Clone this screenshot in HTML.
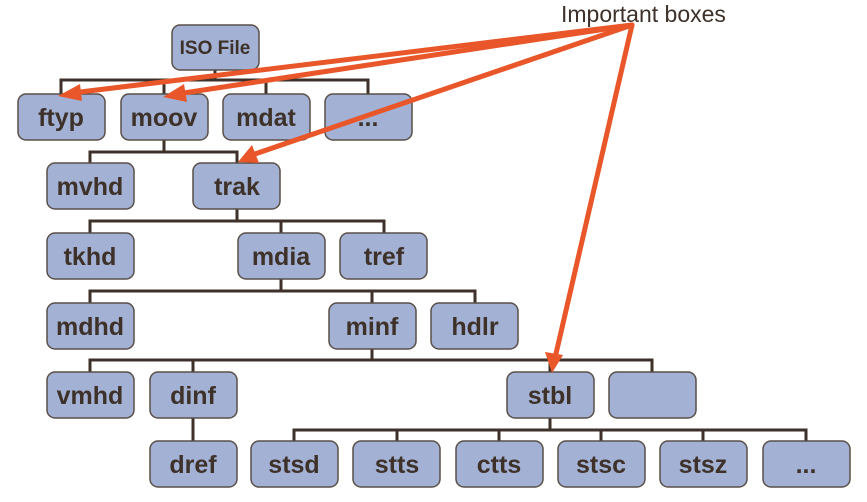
<!DOCTYPE html>
<html><head><meta charset="utf-8"><style>
html,body{margin:0;padding:0;background:#fff;width:867px;height:502px;overflow:hidden}
svg text{font-family:"Liberation Sans",sans-serif;font-weight:bold;fill:#3d3129}
</style></head><body>
<svg width="867" height="502" xmlns="http://www.w3.org/2000/svg">
<g fill="none" stroke="#3d3129" stroke-width="3">
<path d="M215 70V80M61 94V80H368V94M164 80V94M266 80V94"/>
<path d="M164 140V152M90 163V152H237V163"/>
<path d="M237 209V221M90 233V221H384V233M281 221V233"/>
<path d="M281 279V291M90 303V291H475V303M372 291V303"/>
<path d="M372 349V360M90 372V360H652V372M193 360V372M550 360V372"/>
<path d="M193 418V441"/>
<path d="M550 418V430M294 441V430H806V441M397 430V441M499 430V441M601 430V441M703 430V441"/>
</g>
<g fill="#a3b2d4" stroke="#5a4e48" stroke-width="1.5">
<rect x="172" y="25" width="87" height="45" rx="8"/>
<rect x="18" y="94" width="87" height="46" rx="8"/>
<rect x="121" y="94" width="87" height="46" rx="8"/>
<rect x="223" y="94" width="87" height="46" rx="8"/>
<rect x="325" y="94" width="87" height="46" rx="8"/>
<rect x="47" y="163" width="87" height="46" rx="8"/>
<rect x="193" y="163" width="87" height="46" rx="8"/>
<rect x="47" y="233" width="87" height="46" rx="8"/>
<rect x="238" y="233" width="87" height="46" rx="8"/>
<rect x="340" y="233" width="87" height="46" rx="8"/>
<rect x="47" y="303" width="87" height="46" rx="8"/>
<rect x="329" y="303" width="87" height="46" rx="8"/>
<rect x="431" y="303" width="87" height="46" rx="8"/>
<rect x="47" y="372" width="87" height="46" rx="8"/>
<rect x="150" y="372" width="87" height="46" rx="8"/>
<rect x="507" y="372" width="87" height="46" rx="8"/>
<rect x="609" y="372" width="87" height="46" rx="8"/>
<rect x="150" y="441" width="87" height="46" rx="8"/>
<rect x="251" y="441" width="87" height="46" rx="8"/>
<rect x="353" y="441" width="87" height="46" rx="8"/>
<rect x="456" y="441" width="87" height="46" rx="8"/>
<rect x="558" y="441" width="87" height="46" rx="8"/>
<rect x="660" y="441" width="87" height="46" rx="8"/>
<rect x="763" y="441" width="87" height="46" rx="8"/>
</g>
<g text-anchor="middle" font-size="25">
<text x="215" y="54" font-size="19">ISO File</text>
<text x="61" y="126">ftyp</text><text x="164" y="126">moov</text><text x="266" y="126">mdat</text><text x="368" y="126">...</text>
<text x="90" y="195">mvhd</text><text x="237" y="195">trak</text>
<text x="90" y="265">tkhd</text><text x="281" y="265">mdia</text><text x="384" y="265">tref</text>
<text x="90" y="335">mdhd</text><text x="372" y="335">minf</text><text x="475" y="335">hdlr</text>
<text x="90" y="404">vmhd</text><text x="193" y="404">dinf</text><text x="550" y="404">stbl</text>
<text x="193" y="473">dref</text><text x="294" y="473">stsd</text><text x="397" y="473">stts</text><text x="499" y="473">ctts</text><text x="601" y="473">stsc</text><text x="703" y="473">stsz</text><text x="806" y="473">...</text>
</g>
<text x="561" y="22" font-size="23" style="font-weight:normal">Important boxes</text>
<g stroke="#e8562a" stroke-width="5" fill="none" stroke-linecap="round">
<path d="M632 25L72 93"/><path d="M632 25L177 94"/><path d="M632 25L252 155"/><path d="M632 25L555 358"/>
</g>
<g fill="#e8562a">
<polygon points="58,96 80,84 82,101"/>
<polygon points="163,97 184,84 187,102"/>
<polygon points="238,162 252,145 259,163"/>
<polygon points="552,373 545,352 563,355"/>
</g>
</svg>
</body></html>
